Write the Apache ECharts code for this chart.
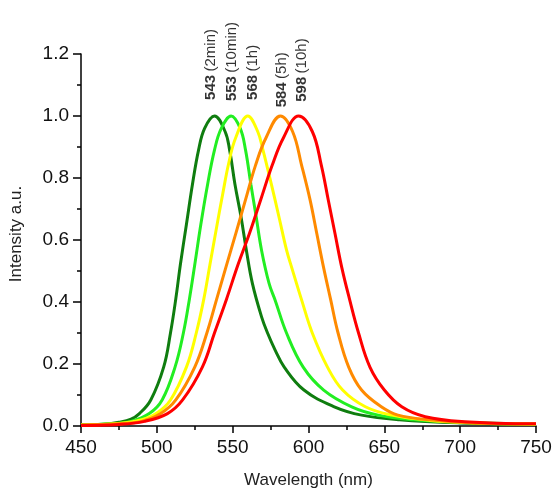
<!DOCTYPE html>
<html>
<head>
<meta charset="utf-8">
<script src="https://cdn.jsdelivr.net/npm/echarts@6/dist/echarts.min.js"></script>
<style>
html,body{margin:0;padding:0;background:#fff;}
#chart{width:558px;height:496px;}
</style>
</head>
<body>
<div id="chart"></div>
<script>
// Emission spectra [wavelength nm, intensity]
var s2min = [[450,0.004],[465,0.006],[475,0.012],[483,0.022],[488.5,0.04],[496,0.084],[504.5,0.19],[509,0.3],[512.5,0.41],[515.5,0.52],[519.5,0.65],[523.5,0.78],[527.5,0.89],[531.5,0.96],[538,1.0],[545,0.95],[548,0.89],[551.5,0.78],[555.5,0.675],[559,0.568],[563,0.46],[569,0.353],[573,0.3],[578,0.245],[584,0.19],[597,0.116],[617,0.062],[635,0.035],[660,0.02],[700,0.01],[750,0.005]];
var s10min = [[450,0.004],[470,0.007],[483,0.015],[495,0.04],[503.5,0.084],[512,0.19],[517.5,0.3],[521.5,0.41],[525,0.52],[529,0.65],[533.5,0.78],[538,0.89],[542.5,0.96],[549,1.0],[555,0.96],[558.5,0.89],[562,0.78],[565.5,0.675],[569,0.568],[574,0.46],[578,0.406],[585.5,0.3],[596.5,0.19],[610,0.116],[628.5,0.062],[646,0.035],[670,0.02],[700,0.012],[750,0.006]];
var s1h = [[450,0.003],[475,0.008],[490,0.02],[499.5,0.04],[509,0.084],[519.5,0.19],[526,0.3],[531,0.41],[535,0.52],[539,0.63],[543.5,0.75],[547.5,0.85],[552,0.93],[560,1.0],[566.5,0.95],[570,0.89],[575.5,0.78],[580.5,0.675],[585.5,0.568],[589,0.51],[595.5,0.406],[602.5,0.3],[612.5,0.19],[622.5,0.116],[637.5,0.062],[655,0.035],[680,0.018],[710,0.01],[750,0.006]];
var s5h = [[450,0.003],[475,0.007],[490,0.015],[502.5,0.04],[512.5,0.084],[525,0.19],[533,0.3],[539.5,0.41],[546,0.52],[552,0.62],[558.5,0.73],[565,0.84],[572,0.93],[581.5,1.0],[589.5,0.95],[595.5,0.84],[601,0.73],[605.5,0.62],[610,0.51],[614.5,0.41],[619.5,0.3],[626.5,0.19],[635,0.116],[648,0.062],[659,0.035],[680,0.02],[710,0.01],[750,0.007]];
var s10h = [[450,0.002],[475,0.005],[492,0.015],[507,0.04],[517,0.084],[530,0.19],[538,0.3],[546,0.41],[553.5,0.52],[561,0.62],[568.5,0.73],[576,0.84],[583.5,0.93],[593.5,1.0],[602.5,0.95],[608.5,0.84],[613,0.73],[617.5,0.62],[622,0.51],[627,0.41],[633,0.3],[640.5,0.19],[650,0.116],[661.5,0.062],[677,0.03],[703,0.014],[750,0.007]];

// Peak annotations
var peakValues = ['543','553','568','584','598'];
var peakTimes = ['(2min)','(10min)','(1h)','(5h)','(10h)'];
var labelX = [535.5, 549.3, 563.5, 582.4, 595.4];
var labelY = [1.052, 1.048, 1.052, 1.028, 1.046];

var xTicks = [450, 500, 550, 600, 650, 700, 750];
var yTicks = [0, 0.2, 0.4, 0.6, 0.8, 1.0, 1.2];

var colors = ['#0f7d0f', '#22ee22', '#ffff00', '#ff8a00', '#ff0000'];
var seriesData = [s2min, s10min, s1h, s5h, s10h];

var chart = echarts.init(document.getElementById('chart'), null, {renderer: 'canvas'});

var series = seriesData.map(function (d, i) {
  return {
    type: 'line',
    data: d,
    smooth: 0.4,
    showSymbol: false,
    symbol: 'none',
    lineStyle: {color: colors[i], width: 3},
    z: 2 + i,
    animation: false
  };
});

series.push({
  type: 'scatter',
  symbolSize: 0,
  data: labelX.map(function (x, i) { return [x, labelY[i], i]; }),
  animation: false,
  silent: true,
  label: {
    show: true,
    position: [0, 0],
    rotate: 90,
    align: 'left',
    verticalAlign: 'middle',
    formatter: function (p) {
      var i = p.value[2];
      return '{b|' + peakValues[i] + '} {n|' + peakTimes[i] + '}';
    },
    rich: {
      b: {fontFamily: 'Liberation Sans', fontSize: 15, fontWeight: 'bold', color: '#000'},
      n: {fontFamily: 'Liberation Sans', fontSize: 15, color: '#000'}
    }
  }
});

chart.setOption({
  backgroundColor: '#fff',
  animation: false,
  textStyle: {fontFamily: 'Liberation Sans'},
  grid: {left: 76, right: 22, top: 54, bottom: 70, containLabel: false},
  xAxis: {
    type: 'value',
    min: xTicks[0],
    max: xTicks[xTicks.length - 1],
    interval: 50,
    name: 'Wavelength (nm)',
    nameLocation: 'middle',
    nameGap: 46,
    nameTextStyle: {fontFamily: 'Liberation Sans', fontSize: 17, color: '#222'},
    axisLine: {show: true, onZero: false, lineStyle: {color: '#000', width: 1.5}},
    axisTick: {show: true, inside: false, length: 7, lineStyle: {color: '#000', width: 1.5}},
    minorTick: {show: true, splitNumber: 2, length: 4, lineStyle: {color: '#000', width: 1.5}},
    splitLine: {show: false},
    axisLabel: {fontFamily: 'Liberation Sans', fontSize: 19, color: '#111', margin: 12}
  },
  yAxis: {
    type: 'value',
    min: yTicks[0],
    max: yTicks[yTicks.length - 1],
    interval: 0.2,
    name: 'Intensity a.u.',
    nameLocation: 'middle',
    nameGap: 56,
    nameRotate: 90,
    nameTextStyle: {fontFamily: 'Liberation Sans', fontSize: 17, color: '#222', padding: [0, 0, 0, 12]},
    axisLine: {show: true, onZero: false, lineStyle: {color: '#000', width: 1.5}},
    axisTick: {show: true, inside: false, length: 8, lineStyle: {color: '#000', width: 1.5}},
    minorTick: {show: true, splitNumber: 2, length: 4, lineStyle: {color: '#000', width: 1.5}},
    splitLine: {show: false},
    axisLabel: {fontFamily: 'Liberation Sans', fontSize: 19, color: '#111', margin: 12,
      formatter: function (v) { return v.toFixed(1); }}
  },
  series: series
});
</script>
</body>
</html>
